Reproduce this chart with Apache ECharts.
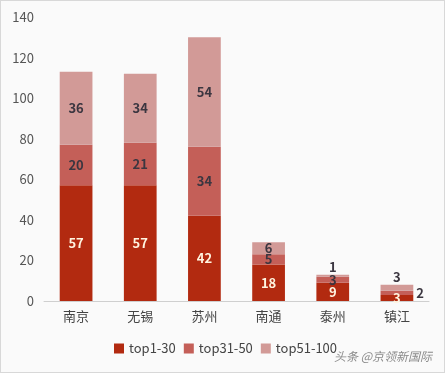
<!DOCTYPE html>
<html><head><meta charset="utf-8">
<script src="https://cdn.jsdelivr.net/npm/echarts@6/dist/echarts.min.js"></script>
<style>html,body{margin:0;padding:0;background:#fff}#c{width:445px;height:373px;box-sizing:border-box;border:1px solid #d8d8d8;background:#fafafa}</style>
</head><body><div id="c"></div>
<script>
const categories = ['南京','无锡','苏州','南通','泰州','镇江'];
const top1_30 = [57,57,42,18,9,3];
const top31_50 = [20,21,34,5,3,2];
const top51_100 = [36,34,54,6,1,3];
const yTicks = [0,20,40,60,80,100,120,140];

const font = '"Noto Sans CJK SC","Microsoft YaHei",sans-serif';
const darkLabel = {show:true, position:'inside', color:'#3b3640', fontWeight:'bold', fontSize:13, fontFamily:font};
const lightLabel = {show:true, position:'inside', color:'#fff4e0', fontWeight:'bold', fontSize:13, fontFamily:font};

const midData = top31_50.map((v,i)=> i===5 ? {value:v, label:{position:'right', distance:3, offset:[0,0]}} : v);
const topData = top51_100.map((v,i)=> (i===4||i===5) ? {value:v, label:{position:'top', distance:1}} : v);

const chart = echarts.init(document.getElementById('c'), null, {renderer:'canvas'});
chart.setOption({
  backgroundColor:'#fafafa',
  animation:false,
  grid:{left:43, right:15, top:16, bottom:71},
  legend:{
    bottom:12, left:108, itemWidth:10, itemHeight:10, itemGap:8, icon:'rect',
    textStyle:{fontSize:13, color:'#444', fontFamily:font},
    data:['top1-30','top31-50','top51-100']
  },
  xAxis:{
    type:'category', data:categories,
    axisLine:{lineStyle:{color:'#cfcfcf'}}, axisTick:{show:false},
    axisLabel:{fontSize:13, color:'#444', fontFamily:font, margin:9}
  },
  yAxis:{
    type:'value', min:0, max:140, interval:20,
    splitLine:{show:false}, axisLine:{show:false}, axisTick:{show:false},
    axisLabel:{fontSize:13, color:'#555', fontFamily:font, margin:10,
      formatter:v=> yTicks.includes(v) ? String(v) : ''}
  },
  series:[
    {name:'top1-30', type:'bar', stack:'a', barWidth:'51%', data:top1_30, itemStyle:{color:'#b22a10'}, label:lightLabel},
    {name:'top31-50', type:'bar', stack:'a', data:midData, itemStyle:{color:'#c45f58'}, label:darkLabel},
    {name:'top51-100', type:'bar', stack:'a', data:topData, itemStyle:{color:'#d29a97'}, label:darkLabel}
  ],
  graphic:[{type:'text', right:12, bottom:10, style:{text:'头条 @京领新国际', fill:'#8a8a8a', fontSize:12, fontFamily:font, fontStyle:'italic'}}]
});
</script></body></html>
